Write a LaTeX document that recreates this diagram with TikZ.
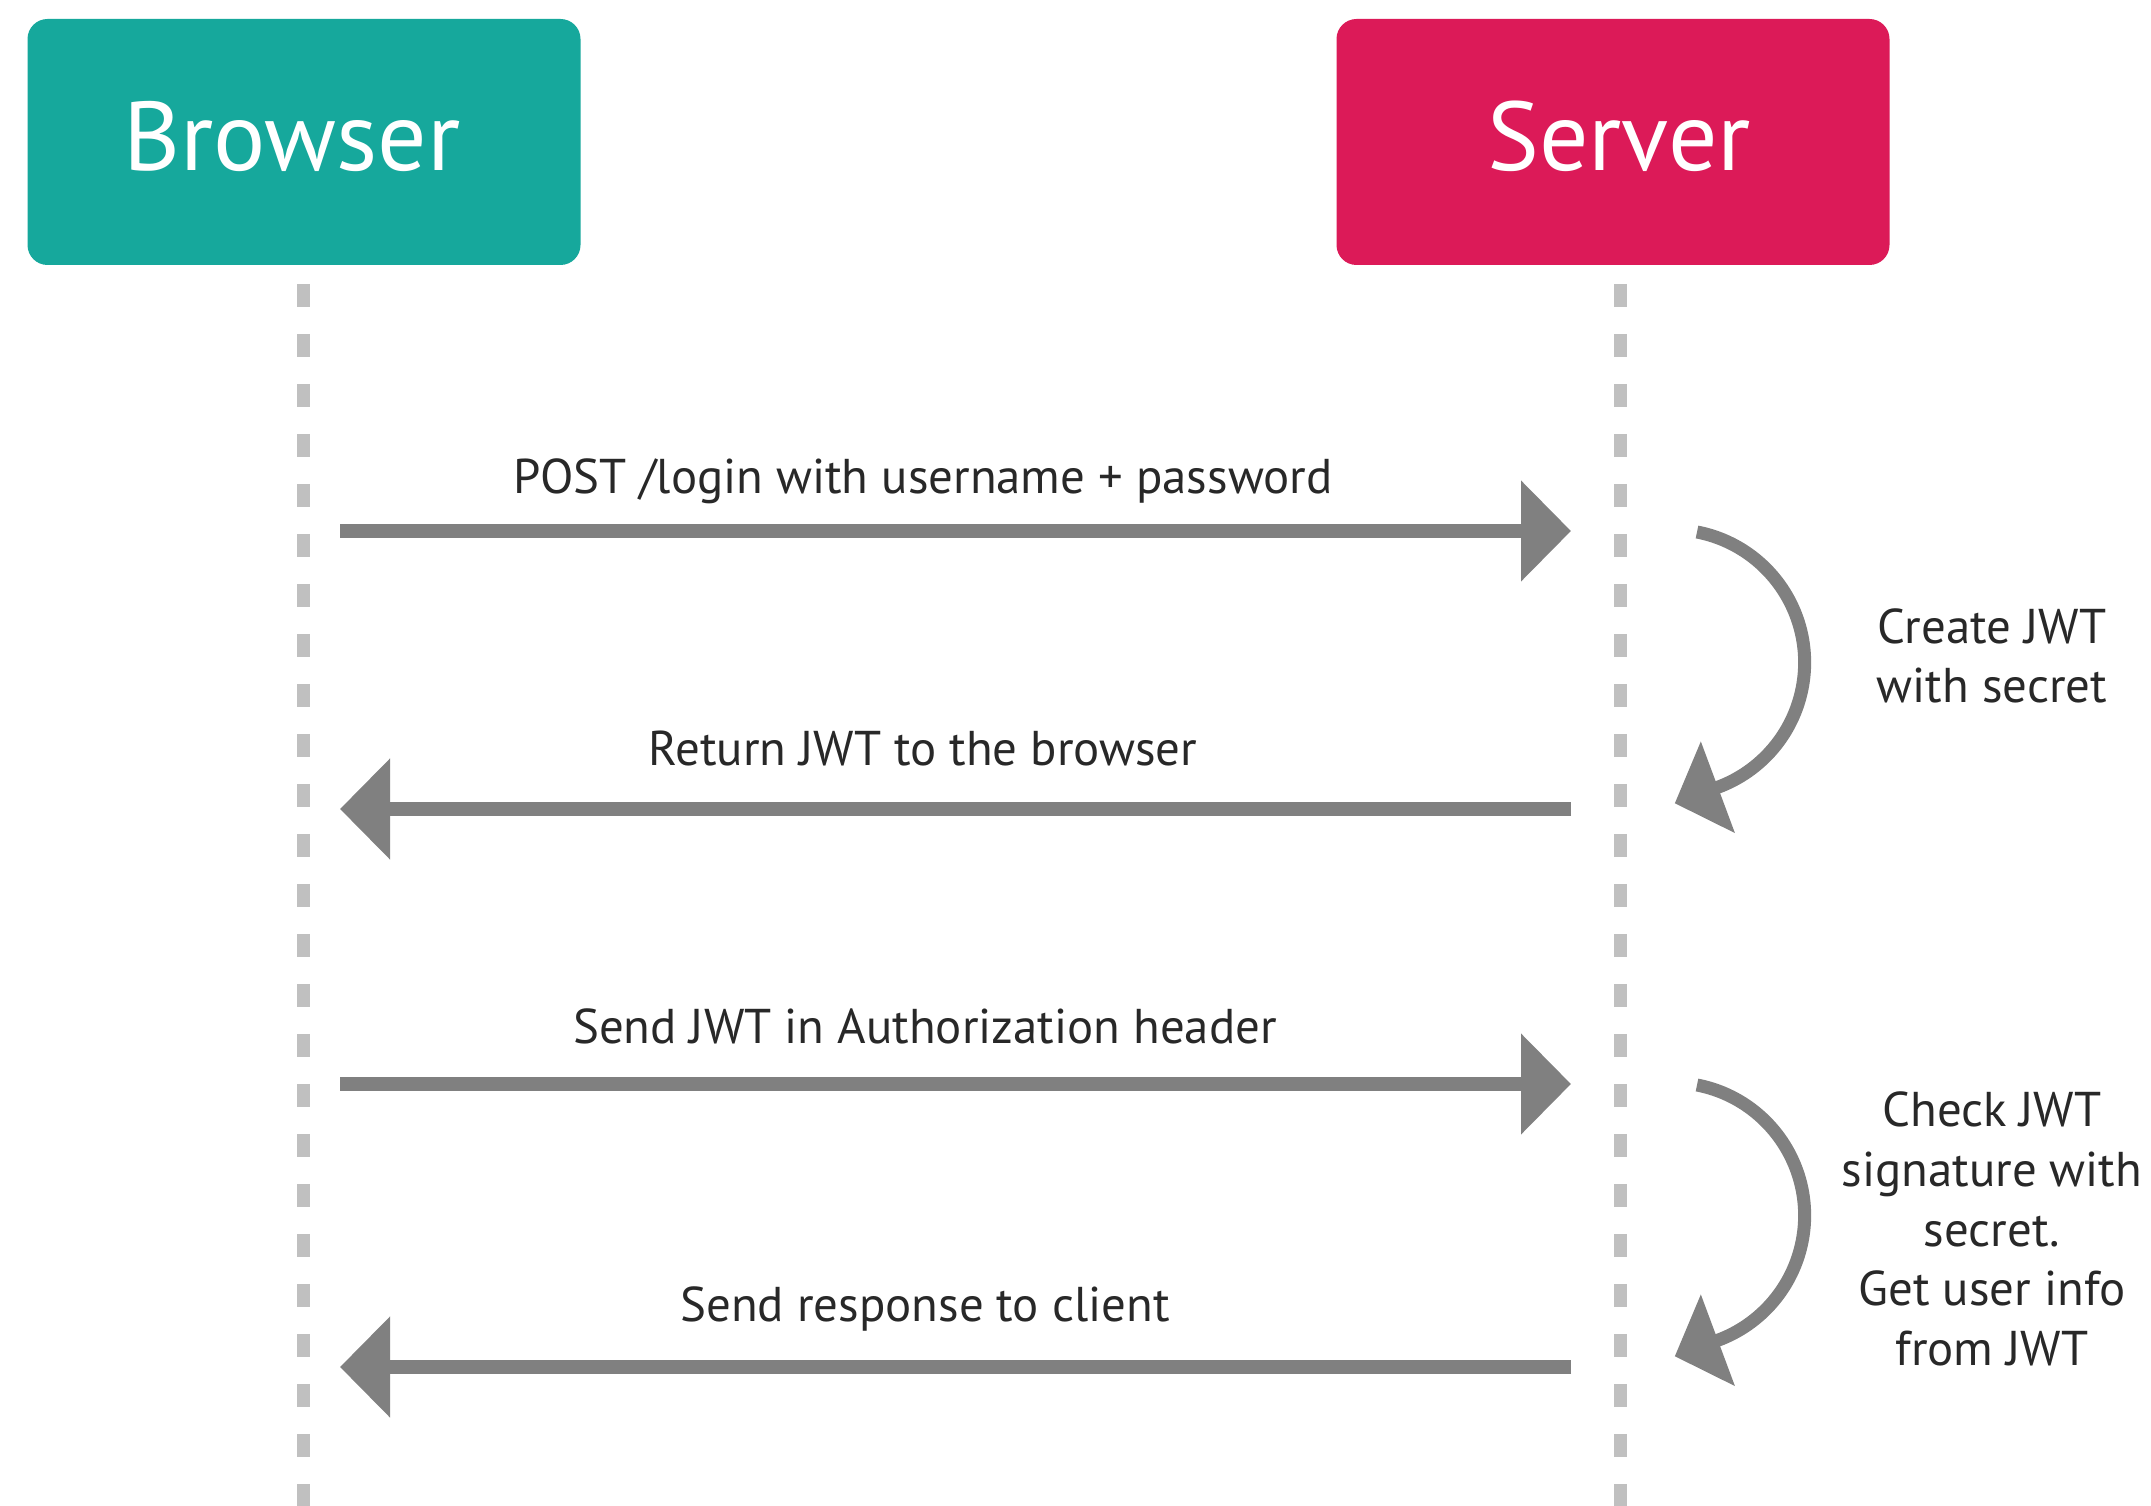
\documentclass[tikz,border=0pt]{standalone}
\usepackage{fontspec}
\setmainfont{PT Sans}
\usetikzlibrary{arrows.meta}
\definecolor{tealbox}{RGB}{22,168,156}
\definecolor{crimbox}{RGB}{220,26,88}
\definecolor{arrowgray}{RGB}{128,128,128}
\definecolor{lifegray}{RGB}{192,192,192}
\definecolor{txtcol}{RGB}{40,40,40}
\begin{document}
\begin{tikzpicture}[x=0.1mm,y=-0.1mm,
  actor/.style={rounded corners=2mm, minimum width=55.3mm, minimum height=24.6mm, inner sep=0pt},
  actortext/.style={text=white, font=\fontsize{27.8}{32}\selectfont, inner sep=0pt, anchor=base},
  msg/.style={draw=arrowgray, line width=1.4mm,
    -{Triangle[length=5mm,width=9.8mm]}},
  selfloop/.style={draw=arrowgray, line width=1.3mm,
    -{Triangle[length=4.6mm,width=9.5mm]}},
  lbl/.style={text=txtcol, font=\fontsize{13.9}{17}\selectfont, inner sep=0pt, align=center},
  life/.style={draw=lifegray, line width=1.3mm, dash pattern=on 2.3mm off 2.7mm},
]
\useasboundingbox[fill=white] (0,0) rectangle (2151,1506);
\node[actor, fill=tealbox] (browser) at (304,142) {};
\node[actor, fill=crimbox] (server) at (1613,142) {};
\node[actortext] (browsertxt) at (292,171) {Browser};
\node[actortext] (servertxt) at (1619,171) {Server};
% lifelines
\coordinate (bl0) at (303,284); \coordinate (bl1) at (303,1506);
\coordinate (sl0) at (1620,284); \coordinate (sl1) at (1620,1506);
\draw[life] (bl0) -- (bl1);
\draw[life] (sl0) -- (sl1);
% messages
\coordinate (a1s) at (340,531);  \coordinate (a1e) at (1571,531);
\coordinate (a2s) at (1571,809); \coordinate (a2e) at (340,809);
\coordinate (a3s) at (340,1084); \coordinate (a3e) at (1571,1084);
\coordinate (a4s) at (1571,1367); \coordinate (a4e) at (340,1367);
\draw[msg] (a1s) -- (a1e);
\draw[msg] (a2s) -- (a2e);
\draw[msg] (a3s) -- (a3e);
\draw[msg] (a4s) -- (a4e);
\node[lbl] (l1) at (923,481) {POST /login with username + password};
\node[lbl] (l2) at (923,748) {Return JWT to the browser};
\node[lbl] (l3) at (925,1026) {Send JWT in Authorization header};
\node[lbl] (l4) at (925,1309) {Send response to client};
% self loops
\coordinate (c1s) at (1697,532);
\coordinate (c2s) at (1697,1085);
\draw[selfloop] (c1s) arc[start angle=-79, end angle=69.7, radius=133] -- ++(-43,16);
\draw[selfloop] (c2s) arc[start angle=-79, end angle=69.7, radius=133] -- ++(-43,16);
\node[lbl] (n1) at (1992,656) {Create JWT\\with secret};
\node[lbl] (n2) at (1992,1229) {Check JWT\\signature with\\secret.\\Get user info\\from JWT};
\end{tikzpicture}
\end{document}
